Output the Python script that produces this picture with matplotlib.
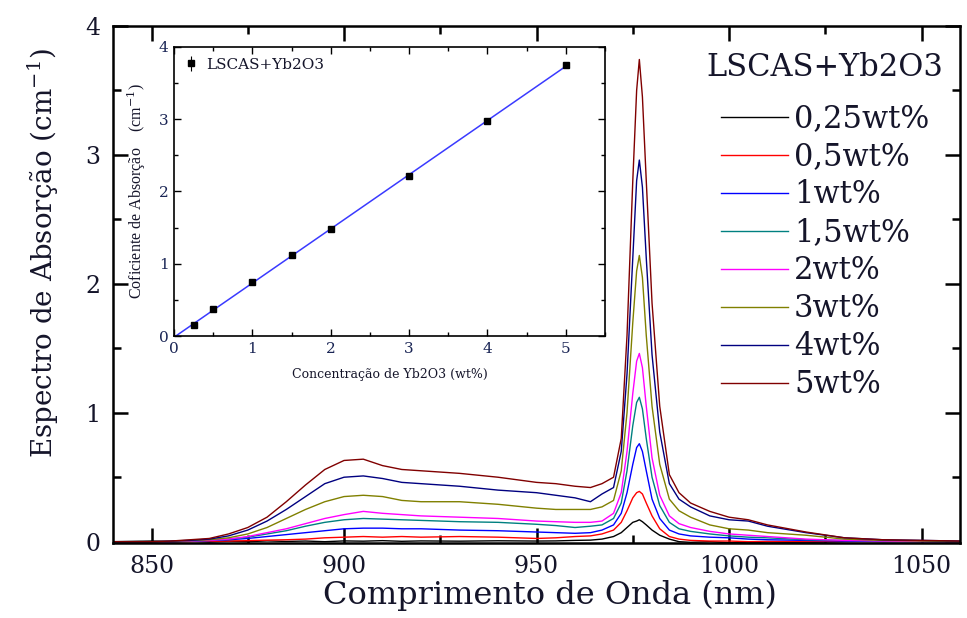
import numpy as np
import matplotlib
matplotlib.use("Agg")
import matplotlib.pyplot as plt
from matplotlib.ticker import MultipleLocator

wavelength = [840, 850, 855, 860, 865, 870, 875, 880, 885, 890, 895, 900, 905, 910,
              915, 920, 930, 940, 950, 955, 960, 964, 967, 970, 972, 973.5, 975, 976,
              976.7, 977.5, 978.5, 980, 982, 984.5, 987, 990, 995, 1000, 1005, 1010,
              1020, 1030, 1040, 1050, 1060]

abs_025 = [0.0, 0.005, 0.0, 0.005, -0.003, 0.004, 0.0, 0.006, 0.002, 0.005, 0.0, 0.006,
           0.004, 0.008, 0.003, 0.006, 0.004, 0.007, 0.005, 0.006, 0.01, 0.012, 0.02,
           0.04, 0.07, 0.11, 0.15, 0.16, 0.17, 0.155, 0.13, 0.09, 0.05, 0.02, 0.0,
           -0.005, 0.0, -0.008, -0.004, -0.01, -0.006, 0.0, 0.004, 0.002, 0.0]
abs_05 = [-0.005, -0.005, 0.0, 0.0, 0.003, 0.005, 0.008, 0.012, 0.015, 0.02, 0.03, 0.035,
          0.04, 0.035, 0.04, 0.035, 0.04, 0.035, 0.025, 0.03, 0.04, 0.045, 0.06, 0.09,
          0.15, 0.24, 0.34, 0.38, 0.39, 0.37, 0.3, 0.2, 0.1, 0.04, 0.02, 0.01, 0.005,
          0.005, 0.0, 0.002, 0.0, 0.003, 0.0, 0.004, 0.0]
abs_1 = [0.0, 0.0, 0.0, 0.003, 0.008, 0.015, 0.025, 0.04, 0.055, 0.07, 0.085, 0.1, 0.105,
         0.105, 0.1, 0.1, 0.09, 0.085, 0.075, 0.07, 0.065, 0.07, 0.09, 0.13, 0.22, 0.38,
         0.6, 0.73, 0.76, 0.7, 0.55, 0.33, 0.18, 0.09, 0.06, 0.045, 0.035, 0.03, 0.02,
         0.015, 0.01, 0.005, 0.0, 0.0, 0.0]
abs_15 = [0.0, 0.0, 0.0, 0.004, 0.01, 0.02, 0.035, 0.06, 0.085, 0.12, 0.15, 0.17, 0.18,
          0.175, 0.17, 0.165, 0.155, 0.15, 0.135, 0.125, 0.11, 0.12, 0.13, 0.18, 0.3,
          0.55, 0.9, 1.08, 1.12, 1.03, 0.8, 0.5, 0.28, 0.15, 0.1, 0.08, 0.06, 0.045,
          0.035, 0.03, 0.015, 0.01, 0.005, 0.0, 0.0]
abs_2 = [0.0, 0.0, 0.0, 0.005, 0.01, 0.02, 0.04, 0.07, 0.1, 0.14, 0.18, 0.21, 0.235, 0.22,
         0.21, 0.2, 0.19, 0.18, 0.16, 0.155, 0.15, 0.15, 0.16, 0.22, 0.38, 0.7, 1.15,
         1.4, 1.46, 1.35, 1.05, 0.65, 0.36, 0.2, 0.14, 0.11, 0.08, 0.06, 0.05, 0.04,
         0.02, 0.01, 0.005, 0.0, 0.0]
abs_3 = [0.0, 0.0, 0.003, 0.008, 0.015, 0.03, 0.06, 0.11, 0.18, 0.25, 0.31, 0.35, 0.36,
         0.35, 0.32, 0.31, 0.31, 0.29, 0.26, 0.25, 0.25, 0.25, 0.27, 0.32, 0.55, 1.0,
         1.7, 2.1, 2.22, 2.05, 1.6, 1.05, 0.6, 0.33, 0.24, 0.19, 0.13, 0.1, 0.09, 0.07,
         0.05, 0.02, 0.01, 0.005, 0.0]
abs_4 = [0.0, 0.0, 0.005, 0.01, 0.02, 0.045, 0.09, 0.16, 0.25, 0.35, 0.45, 0.5, 0.51,
         0.49, 0.46, 0.45, 0.43, 0.4, 0.38, 0.36, 0.34, 0.31, 0.37, 0.42, 0.7, 1.3, 2.2,
         2.8, 2.96, 2.75, 2.2, 1.45, 0.85, 0.45, 0.33, 0.27, 0.2, 0.17, 0.16, 0.12,
         0.07, 0.03, 0.015, 0.01, 0.005]
abs_5 = [0.0, 0.0, 0.005, 0.015, 0.025, 0.06, 0.11, 0.19, 0.31, 0.44, 0.56, 0.63, 0.64,
         0.59, 0.56, 0.55, 0.53, 0.5, 0.46, 0.45, 0.43, 0.42, 0.45, 0.5, 0.8, 1.6, 2.8,
         3.5, 3.74, 3.45, 2.8, 1.85, 1.05, 0.52, 0.38, 0.3, 0.235, 0.19, 0.17, 0.13,
         0.075, 0.03, 0.015, 0.01, 0.005]

series = [abs_025, abs_05, abs_1, abs_15, abs_2, abs_3, abs_4, abs_5]
labels = ["0,25wt%", "0,5wt%", "1wt%", "1,5wt%", "2wt%", "3wt%", "4wt%", "5wt%"]
colors = ["black", "red", "blue", "#008080", "#ff00ff", "#808000", "#000080", "#800000"]

# Inset: absorption coefficient vs concentration
conc = [0.25, 0.5, 1, 1.5, 2, 3, 4, 5]
coef = [0.15, 0.37, 0.75, 1.12, 1.48, 2.21, 2.97, 3.75]

txt = "#15152a"
plt.rcParams["font.family"] = "DejaVu Serif"
plt.rcParams["mathtext.fontset"] = "dejavuserif"

fig = plt.figure(figsize=(9.67, 6.18), dpi=100)
ax = fig.add_axes([0.1169, 0.1214, 0.8759, 0.8366])

for y, lab, c in zip(series, labels, colors):
    ax.plot(wavelength, y, color=c, lw=1.0, label=lab)

ax.set_xlim(840, 1060)
ax.set_ylim(-0.01, 4.0)
ax.xaxis.set_major_locator(MultipleLocator(50))
ax.xaxis.set_minor_locator(MultipleLocator(25))
ax.yaxis.set_major_locator(MultipleLocator(1))
ax.yaxis.set_minor_locator(MultipleLocator(0.5))
ax.tick_params(which="both", direction="in", top=True, right=True, width=1.8,
               labelsize=17, labelcolor=txt, pad=9)
ax.tick_params(which="major", length=11)
ax.tick_params(which="minor", length=6)
for s in ax.spines.values():
    s.set_linewidth(1.8)
ax.set_xlabel("Comprimento de Onda (nm)", fontsize=23, color=txt)
ax.set_ylabel("Espectro de Absorção (cm$^{-1}$)", fontsize=20, color=txt)
ax.xaxis.set_label_coords(0.516, -0.072)
ax.yaxis.set_label_coords(-0.062, 0.56)

# legend title drawn separately so the gap to the entries matches
fig.text(825 / 967, 1 - 68 / 618, "LSCAS+Yb2O3", fontsize=22, color=txt,
         ha="center", va="center")
leg = ax.legend(loc="upper center",
                bbox_to_anchor=(825 / 967, 1 - 88 / 618), bbox_transform=fig.transFigure,
                frameon=False, fontsize=22, handlelength=2.2,
                handletextpad=0.2, labelspacing=0.23, borderpad=0)
for t in leg.get_texts():
    t.set_color(txt)

# Inset
ins = fig.add_axes([0.18, 0.4563, 0.4456, 0.4677])
fit = np.polyfit(conc, coef, 1)
xf = np.array([0, 5])
ins.plot(xf, np.polyval(fit, xf), color="#3a3aff", lw=1.1)
ins.errorbar(conc, coef, yerr=0.02, fmt="s", color="black", ms=5, capsize=0,
             elinewidth=0.8, label="LSCAS+Yb2O3")
ins.set_xlim(0, 5.5)
ins.set_ylim(0, 4)
ins.xaxis.set_major_locator(MultipleLocator(1))
ins.xaxis.set_minor_locator(MultipleLocator(0.5))
ins.yaxis.set_major_locator(MultipleLocator(1))
ins.yaxis.set_minor_locator(MultipleLocator(0.5))
ins.tick_params(which="both", direction="in", top=True, right=True, width=1.0,
                labelsize=11, labelcolor="#1a2555", pad=4)
ins.tick_params(which="major", length=5)
ins.tick_params(which="minor", length=3)
for s in ins.spines.values():
    s.set_linewidth(1.2)
ins.set_xlabel("Concentração de Yb2O3 (wt%)", fontsize=9, color=txt, labelpad=9)
ins.set_ylabel("Coficiente de Absorção    (cm$^{-1}$)", fontsize=11.5, color=txt,
               family="Liberation Serif", labelpad=8)
ileg = ins.legend(loc="upper left", frameon=False, fontsize=11, handlelength=0.8,
                  handletextpad=0.6, borderaxespad=0.3, markerscale=0.9)
for t in ileg.get_texts():
    t.set_color(txt)

fig.savefig("out.png", dpi=100)
